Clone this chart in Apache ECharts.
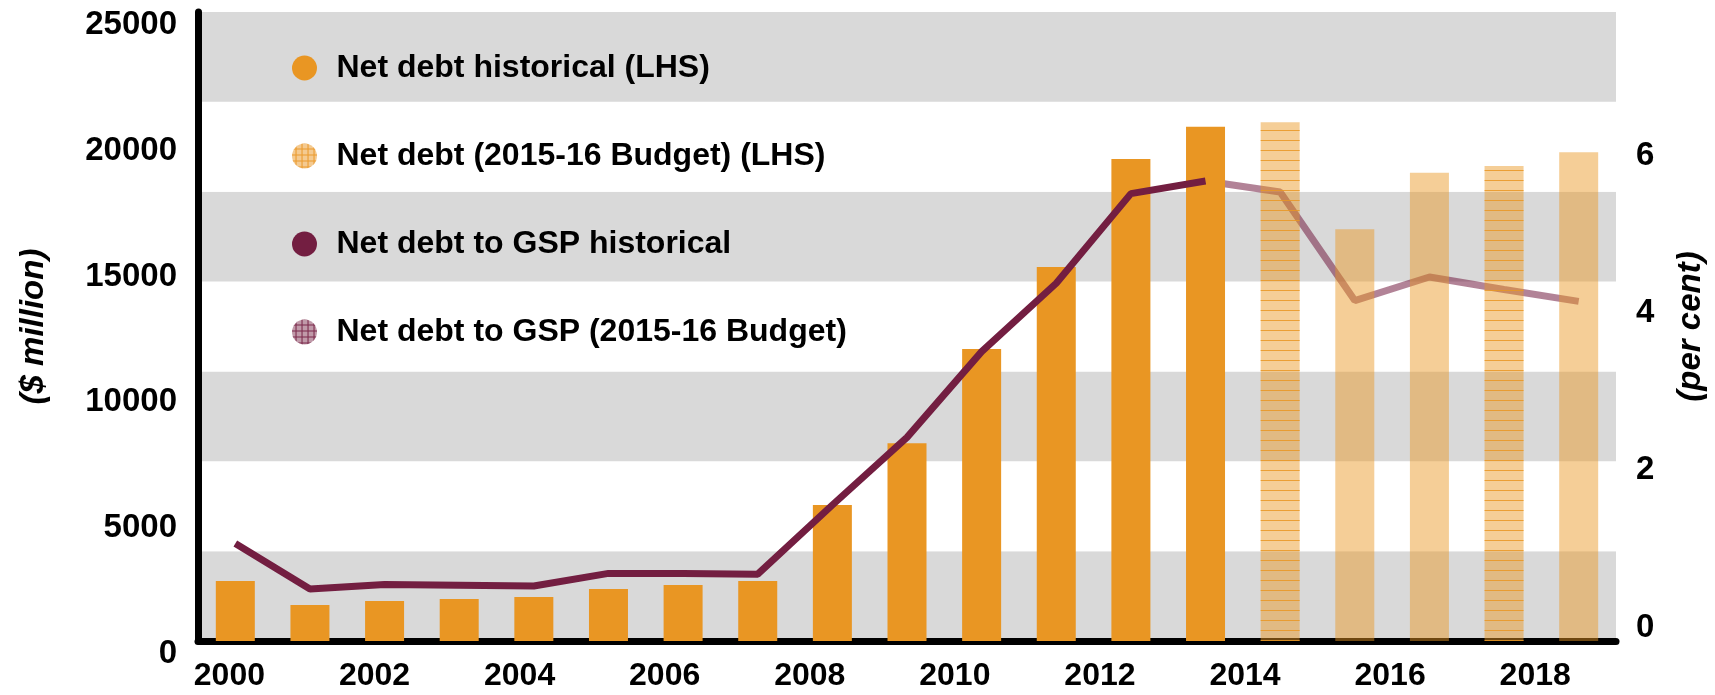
<!DOCTYPE html>
<html><head><meta charset="utf-8">
<script src="https://cdn.jsdelivr.net/npm/echarts@6/dist/echarts.min.js"></script>
<style>html,body{margin:0;padding:0;background:#fff}#c{width:1715px;height:695px}</style>
</head><body><div id="c"></div>
<script>
// ---- data ----
const years = ['2000','2001','2002','2003','2004','2005','2006','2007','2008','2009',
               '2010','2011','2012','2013','2014','2015','2016','2017','2018'];
const tickYears = [2000, 2002, 2004, 2006, 2008, 2010, 2012, 2014, 2016, 2018];
const netDebtHist = [2385, 1430, 1590, 1670, 1750, 2065, 2225, 2385, 5405, 7860,
                     11605, 14865, 19155, 20435, null, null, null, null, null];
const netDebtBudget = [null, null, null, null, null, null, null, null, null, null,
                       null, null, null, null, 20615, 16365, 18615, 18880, 19425];
const gspHist = [1.24, 0.66, 0.72, 0.71, 0.70, 0.86, 0.86, 0.85, 1.73, 2.59,
                 3.68, 4.55, 5.69, 5.85, null, null, null, null, null];
const gspBudget = [null, null, null, null, null, null, null, null, null, null,
                   null, null, null, 5.85, 5.71, 4.33, 4.63, 4.47, 4.32];
const hatchedYears = ['2014', '2017'];
const names = ['Net debt historical (LHS)', 'Net debt (2015-16 Budget) (LHS)',
               'Net debt to GSP historical', 'Net debt to GSP (2015-16 Budget)'];

// ---- style ----
const ORANGE = '#E99623', ORANGE_LIGHT = 'rgba(233,150,35,0.47)';
const MAROON = '#731E41', MAROON_LIGHT = 'rgba(115,30,65,0.55)';
const FONT = 'Liberation Sans';
const hatch = {symbol: 'rect', symbolSize: 1, dashArrayX: [1, 0], dashArrayY: [1, 9],
               rotation: 0, color: 'rgba(233,150,35,0.85)'};
const gridDecal = (c) => ({symbol: 'rect', symbolSize: 1,
  dashArrayX: [[1, 0], [1, 5], [1, 5], [1, 5], [1, 5], [1, 5]], dashArrayY: [1, 0],
  rotation: 0, color: c});

const budgetData = netDebtBudget.map((v, i) =>
  hatchedYears.includes(years[i]) ? {value: v, itemStyle: {decal: hatch}} : v);

const ellipse = 'path://M0,1A1,1,0,1,1,2,1A1,1,0,1,1,0,1Z';

const chart = echarts.init(document.getElementById('c'), null, {renderer: 'canvas'});
chart.setOption({
  animation: false,
  backgroundColor: '#ffffff',
  grid: {left: 198, right: 96, top: 12, bottom: 54, containLabel: false},
  legend: {
    orient: 'vertical', left: 287, top: 47, itemGap: 56,
    itemWidth: 30, itemHeight: 25, icon: ellipse, selectedMode: false,
    textStyle: {fontFamily: FONT, fontWeight: 'bold', fontSize: 32, lineHeight: 32,
                color: '#000', padding: [0, 0, 0, 12]},
    data: [
      {name: names[0], itemStyle: {color: ORANGE}},
      {name: names[1], itemStyle: {color: 'rgba(233,150,35,0.5)', decal: gridDecal('rgba(233,150,35,0.9)')}},
      {name: names[2], itemStyle: {color: MAROON}},
      {name: names[3], itemStyle: {color: 'rgba(115,30,65,0.45)', decal: gridDecal('rgba(115,30,65,0.9)')}}
    ]
  },
  xAxis: [
    {type: 'category', data: years, position: 'bottom', boundaryGap: true,
     axisLine: {show: true, lineStyle: {color: '#000', width: 7}},
     axisTick: {show: false}, axisLabel: {show: false}, splitLine: {show: false}},
    {type: 'value', position: 'bottom', min: 1999.567, max: 2019.114,
     axisLine: {show: false}, axisTick: {show: false}, splitLine: {show: false},
     axisLabel: {show: true, customValues: tickYears, formatter: v => String(Math.round(v)),
                 fontFamily: FONT, fontWeight: 'bold', fontSize: 32, color: '#000', margin: 19}}
  ],
  yAxis: [
    {type: 'value', position: 'left', min: 0, max: 25000, interval: 5000,
     name: '($ million)', nameLocation: 'middle', nameRotate: 90, nameGap: 148,
     nameTextStyle: {fontFamily: FONT, fontWeight: 'bold', fontStyle: 'italic', fontSize: 33, color: '#000'},
     axisLine: {show: true, lineStyle: {color: '#000', width: 7}},
     axisTick: {show: false}, splitLine: {show: false},
     axisLabel: {fontFamily: FONT, fontWeight: 'bold', fontSize: 33, color: '#000', margin: 21,
                 formatter: v => String(v), verticalAlign: 'top', lineHeight: 26}},
    {type: 'value', position: 'right', min: 0, max: 8, interval: 2,
     name: '(per cent)', nameLocation: 'middle', nameRotate: 90, nameGap: 58,
     nameTextStyle: {fontFamily: FONT, fontWeight: 'bold', fontStyle: 'italic', fontSize: 33, color: '#000'},
     axisLine: {show: false}, axisTick: {show: false}, splitLine: {show: false},
     axisLabel: {fontFamily: FONT, fontWeight: 'bold', fontSize: 33, color: '#000', margin: 20,
                 verticalAlign: 'bottom', lineHeight: 27, showMaxLabel: false}},
    {type: 'value', position: 'left', min: 0, max: 7, interval: 1,
     axisLine: {show: false}, axisTick: {show: false}, axisLabel: {show: false},
     splitLine: {show: false},
     splitArea: {show: true, areaStyle: {color: ['#d9d9d9', '#ffffff']}}}
  ],
  series: [
    {name: names[0], type: 'bar', xAxisIndex: 0, yAxisIndex: 0, data: netDebtHist,
     barWidth: 39, barGap: '-100%', itemStyle: {color: ORANGE}, z: 2},
    {name: names[1], type: 'bar', xAxisIndex: 0, yAxisIndex: 0, data: budgetData,
     barWidth: 39, barGap: '-100%', itemStyle: {color: ORANGE_LIGHT}, z: 2},
    {name: names[2], type: 'line', xAxisIndex: 0, yAxisIndex: 1, data: gspHist,
     symbol: 'none', lineStyle: {color: MAROON, width: 7, cap: 'butt'}, itemStyle: {color: MAROON}, z: 3},
    {name: names[3], type: 'line', xAxisIndex: 0, yAxisIndex: 1, data: gspBudget,
     symbol: 'none', lineStyle: {color: MAROON_LIGHT, width: 7, cap: 'butt'}, itemStyle: {color: MAROON_LIGHT}, z: 1}
  ]
});
</script></body></html>
